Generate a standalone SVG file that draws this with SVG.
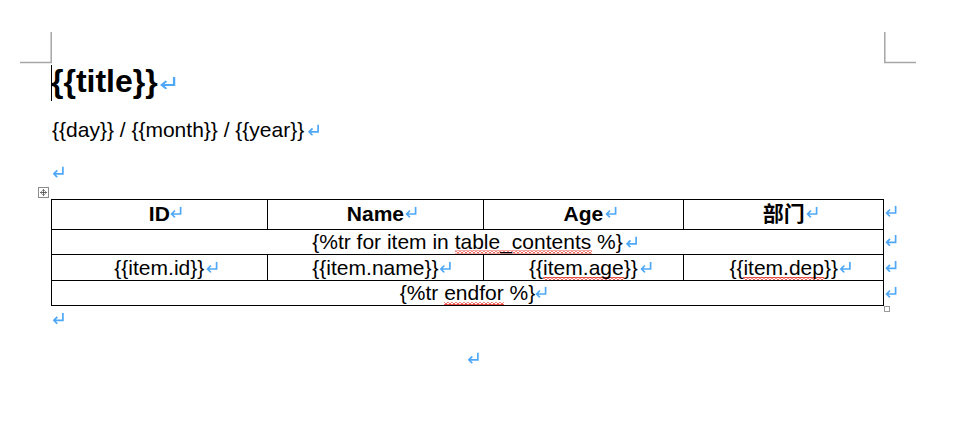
<svg xmlns="http://www.w3.org/2000/svg" xmlns:xlink="http://www.w3.org/1999/xlink" width="979" height="421" viewBox="0 0 979 421">
<style>
  .t { font-family: "Liberation Sans", Arial, "Noto Sans CJK SC", sans-serif; fill: #000; }
  .b { font-weight: bold; }
  .body { font-size: 21px; }
  .c { text-anchor: middle; }
  .grid { stroke: #000; stroke-width: 1; fill: none; }
  .corner { stroke: #a6a6a6; stroke-width: 1.5; fill: none; }
  .sq { fill: url(#squiggle); }
</style>
<defs>
  <symbol id="ret" viewBox="0 0 12 11" preserveAspectRatio="none">
    <path d="M10.6 0 V7.3 H1.8 M5 3.8 L1.6 7.3 L5 10.8" fill="none" stroke="#4ea8f7" stroke-width="1.7"/>
  </symbol>
  <pattern id="squiggle" x="0" y="0" width="4" height="3" patternUnits="userSpaceOnUse">
    <path d="M0 2.4 L2 0.6 L4 2.4" fill="none" stroke="#e41e16" stroke-width="1.1"/>
  </pattern>
</defs>

<rect width="979" height="421" fill="#fff"/>

<g id="page-corners">
  <path class="corner" d="M20 62.5 H51.2 V32"/>
  <path class="corner" d="M884.8 32 V62.5 H916"/>
</g>

<g id="title">
  <text class="t b" x="51" y="92" font-size="32">{{title}}</text>
  <line x1="51.5" y1="65" x2="51.5" y2="101" stroke="#000" stroke-width="1"/>
  <use xlink:href="#ret" x="159.5" y="77" width="16.5" height="12"/>
</g>

<g id="date">
  <text class="t body" x="52" y="136.5">{{day}} / {{month}} / {{year}}</text>
  <use xlink:href="#ret" x="307.5" y="124.5" width="12" height="11"/>
</g>

<g id="empty-paragraph">
  <use xlink:href="#ret" x="52.3" y="166.5" width="12" height="11"/>
</g>

<g id="table">
  <g id="table-move-handle">
    <rect x="38.5" y="187.5" width="10" height="10" fill="#fff" stroke="#8c8c8c" stroke-width="1"/>
    <path d="M43.5 189.5 V195.5 M40.5 192.5 H46.5 M42.3 190.7 L43.5 189.5 L44.7 190.7 M42.3 194.3 L43.5 195.5 L44.7 194.3 M41.7 191.3 L40.5 192.5 L41.7 193.7 M45.3 191.3 L46.5 192.5 L45.3 193.7" fill="none" stroke="#444" stroke-width="0.8"/>
  </g>
  <g id="table-grid">
    <rect class="grid" x="51.5" y="199.5" width="832" height="106"/>
    <path class="grid" d="M51.5 229.5 H883.5 M51.5 254.5 H883.5 M51.5 280.5 H883.5"/>
    <path class="grid" d="M267.5 199.5 V229.5 M483.5 199.5 V229.5 M683.5 199.5 V229.5"/>
    <path class="grid" d="M267.5 254.5 V280.5 M483.5 254.5 V280.5 M683.5 254.5 V280.5"/>
  </g>
  <rect x="884.5" y="306.5" width="5" height="5" fill="#fff" stroke="#999" stroke-width="1"/>

  <g id="header-row">
    <text class="t b body c" x="159.3" y="220.5">ID</text>
    <text class="t b body c" x="375.4" y="220.5">Name</text>
    <text class="t b body c" x="583.4" y="220.5">Age</text>
    <text class="t b body c" x="783.7" y="220.5">部门</text>
    <use xlink:href="#ret" x="170" y="206.7" width="12" height="11"/>
    <use xlink:href="#ret" x="405" y="206.7" width="12" height="11"/>
    <use xlink:href="#ret" x="605" y="206.7" width="12" height="11"/>
    <use xlink:href="#ret" x="806" y="206.7" width="12" height="11"/>
  </g>

  <g id="for-row">
    <rect class="sq" x="455" y="250.5" width="137" height="3"/>
    <text class="t body c" x="467.5" y="249">{%tr for item in table_contents %}</text>
    <use xlink:href="#ret" x="625.5" y="236.5" width="12" height="11"/>
  </g>

  <g id="item-row">
    <rect class="sq" x="543" y="277" width="81" height="3"/>
    <rect class="sq" x="743" y="277" width="81" height="3"/>
    <text class="t body c" x="159.3" y="275">{{item.id}}</text>
    <text class="t body c" x="375.4" y="275">{{item.name}}</text>
    <text class="t body c" x="583.4" y="275">{{item.age}}</text>
    <text class="t body c" x="783.7" y="275">{{item.dep}}</text>
    <use xlink:href="#ret" x="206" y="261.7" width="12" height="11"/>
    <use xlink:href="#ret" x="439.3" y="261.7" width="12" height="11"/>
    <use xlink:href="#ret" x="640" y="261.7" width="12" height="11"/>
    <use xlink:href="#ret" x="839.3" y="261.7" width="12" height="11"/>
  </g>

  <g id="endfor-row">
    <rect class="sq" x="444" y="302" width="60" height="3"/>
    <text class="t body c" x="467.5" y="300">{%tr endfor %}</text>
    <use xlink:href="#ret" x="535" y="286.7" width="12" height="11"/>
  </g>

  <g id="row-end-marks">
    <use xlink:href="#ret" x="885" y="205.7" width="12" height="11"/>
    <use xlink:href="#ret" x="885" y="235" width="12" height="11"/>
    <use xlink:href="#ret" x="885" y="261" width="12" height="11"/>
    <use xlink:href="#ret" x="885" y="286.7" width="12" height="11"/>
  </g>
</g>

<g id="after-table">
  <use xlink:href="#ret" x="52.3" y="313" width="12" height="11"/>
  <use xlink:href="#ret" x="467.3" y="352.5" width="12" height="11"/>
</g>
</svg>
